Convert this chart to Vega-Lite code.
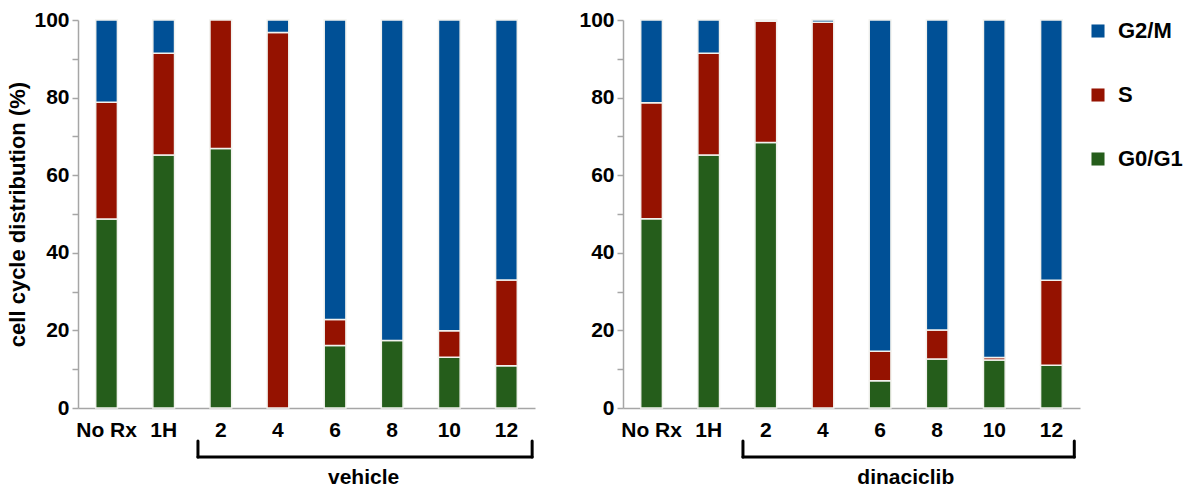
{
  "$schema": "https://vega.github.io/schema/vega-lite/v6.json",
  "padding": {"left": 6, "top": 9, "right": 2, "bottom": 5},
  "background": "white",
  "config": {
    "font": "Liberation Sans",
    "view": {"stroke": null},
    "axis": {
      "domainColor": "#a6a6a6",
      "tickColor": "#a6a6a6",
      "domainWidth": 1.5,
      "tickWidth": 1.5,
      "labelFont": "Liberation Sans",
      "labelFontWeight": "bold",
      "labelColor": "black",
      "titleFont": "Liberation Sans",
      "titleFontWeight": "bold",
      "titleColor": "black",
      "grid": false
    },
    "legend": {
      "labelFont": "Liberation Sans",
      "labelFontWeight": "bold",
      "labelColor": "black"
    }
  },
  "datasets": {
    "cells": [
      {"treatment": "vehicle", "time": "No Rx", "phase": "G0/G1", "stage": 1, "pct": 48.7},
      {"treatment": "vehicle", "time": "No Rx", "phase": "S", "stage": 2, "pct": 30.1},
      {"treatment": "vehicle", "time": "No Rx", "phase": "G2/M", "stage": 3, "pct": 21.2},
      {"treatment": "vehicle", "time": "1H", "phase": "G0/G1", "stage": 1, "pct": 65.2},
      {"treatment": "vehicle", "time": "1H", "phase": "S", "stage": 2, "pct": 26.2},
      {"treatment": "vehicle", "time": "1H", "phase": "G2/M", "stage": 3, "pct": 8.6},
      {"treatment": "vehicle", "time": "2", "phase": "G0/G1", "stage": 1, "pct": 66.9},
      {"treatment": "vehicle", "time": "2", "phase": "S", "stage": 2, "pct": 33.1},
      {"treatment": "vehicle", "time": "4", "phase": "S", "stage": 2, "pct": 96.8},
      {"treatment": "vehicle", "time": "4", "phase": "G2/M", "stage": 3, "pct": 3.2},
      {"treatment": "vehicle", "time": "6", "phase": "G0/G1", "stage": 1, "pct": 16.1},
      {"treatment": "vehicle", "time": "6", "phase": "S", "stage": 2, "pct": 6.7},
      {"treatment": "vehicle", "time": "6", "phase": "G2/M", "stage": 3, "pct": 77.2},
      {"treatment": "vehicle", "time": "8", "phase": "G0/G1", "stage": 1, "pct": 17.4},
      {"treatment": "vehicle", "time": "8", "phase": "G2/M", "stage": 3, "pct": 82.6},
      {"treatment": "vehicle", "time": "10", "phase": "G0/G1", "stage": 1, "pct": 13.1},
      {"treatment": "vehicle", "time": "10", "phase": "S", "stage": 2, "pct": 6.8},
      {"treatment": "vehicle", "time": "10", "phase": "G2/M", "stage": 3, "pct": 80.1},
      {"treatment": "vehicle", "time": "12", "phase": "G0/G1", "stage": 1, "pct": 10.9},
      {"treatment": "vehicle", "time": "12", "phase": "S", "stage": 2, "pct": 22.1},
      {"treatment": "vehicle", "time": "12", "phase": "G2/M", "stage": 3, "pct": 67.0},
      {"treatment": "dinaciclib", "time": "No Rx", "phase": "G0/G1", "stage": 1, "pct": 48.8},
      {"treatment": "dinaciclib", "time": "No Rx", "phase": "S", "stage": 2, "pct": 29.9},
      {"treatment": "dinaciclib", "time": "No Rx", "phase": "G2/M", "stage": 3, "pct": 21.3},
      {"treatment": "dinaciclib", "time": "1H", "phase": "G0/G1", "stage": 1, "pct": 65.2},
      {"treatment": "dinaciclib", "time": "1H", "phase": "S", "stage": 2, "pct": 26.2},
      {"treatment": "dinaciclib", "time": "1H", "phase": "G2/M", "stage": 3, "pct": 8.6},
      {"treatment": "dinaciclib", "time": "2", "phase": "G0/G1", "stage": 1, "pct": 68.4},
      {"treatment": "dinaciclib", "time": "2", "phase": "S", "stage": 2, "pct": 31.3},
      {"treatment": "dinaciclib", "time": "2", "phase": "G2/M", "stage": 3, "pct": 0.3},
      {"treatment": "dinaciclib", "time": "4", "phase": "S", "stage": 2, "pct": 99.4},
      {"treatment": "dinaciclib", "time": "4", "phase": "G2/M", "stage": 3, "pct": 0.6},
      {"treatment": "dinaciclib", "time": "6", "phase": "G0/G1", "stage": 1, "pct": 7.0},
      {"treatment": "dinaciclib", "time": "6", "phase": "S", "stage": 2, "pct": 7.6},
      {"treatment": "dinaciclib", "time": "6", "phase": "G2/M", "stage": 3, "pct": 85.4},
      {"treatment": "dinaciclib", "time": "8", "phase": "G0/G1", "stage": 1, "pct": 12.6},
      {"treatment": "dinaciclib", "time": "8", "phase": "S", "stage": 2, "pct": 7.5},
      {"treatment": "dinaciclib", "time": "8", "phase": "G2/M", "stage": 3, "pct": 79.9},
      {"treatment": "dinaciclib", "time": "10", "phase": "G0/G1", "stage": 1, "pct": 12.4},
      {"treatment": "dinaciclib", "time": "10", "phase": "S", "stage": 2, "pct": 0.6},
      {"treatment": "dinaciclib", "time": "10", "phase": "G2/M", "stage": 3, "pct": 87.0},
      {"treatment": "dinaciclib", "time": "12", "phase": "G0/G1", "stage": 1, "pct": 11.0},
      {"treatment": "dinaciclib", "time": "12", "phase": "S", "stage": 2, "pct": 21.9},
      {"treatment": "dinaciclib", "time": "12", "phase": "G2/M", "stage": 3, "pct": 67.1}
    ]
  },
  "spacing": 43,
  "resolve": {"scale": {"color": "shared"}, "legend": {"color": "shared"}},
  "hconcat": [
    {
      "width": 457,
      "height": 388,
      "resolve": {"scale": {"x": "independent", "y": "independent"}},
      "layer": [
        {
          "data": {"name": "cells"},
          "transform": [{"filter": "datum.treatment === 'vehicle'"}],
          "mark": {"type": "bar", "stroke": "#f2f2ee", "strokeWidth": 1.5},
          "encoding": {
            "x": {
              "field": "time", "type": "nominal",
              "sort": ["No Rx", "1H", "2", "4", "6", "8", "10", "12"],
              "scale": {"paddingInner": 0.62, "paddingOuter": 0.31},
              "axis": {"title": null, "ticks": false, "labelAngle": 0, "labelFontSize": 21, "labelPadding": 11}
            },
            "y": {
              "field": "pct", "type": "quantitative", "stack": "zero",
              "scale": {"domain": [0, 100], "nice": false},
              "axis": {
                "title": "cell cycle distribution (%)",
                "titleFontSize": 22, "titlePadding": 4,
                "values": [0, 10, 20, 30, 40, 50, 60, 70, 80, 90, 100],
                "labelExpr": "datum.value % 20 === 0 ? datum.label : ''",
                "labelFontSize": 21, "labelPadding": 3, "tickSize": 6
              }
            },
            "color": {
              "field": "phase", "type": "nominal",
              "scale": {"domain": ["G2/M", "S", "G0/G1"], "range": ["#005096", "#951200", "#255d1b"]},
              "legend": {
                "title": null, "symbolType": "square", "symbolSize": 170, "symbolStrokeWidth": 0,
                "labelFontSize": 22, "rowPadding": 42, "labelOffset": 9, "offset": 7
              }
            },
            "order": {"field": "stage", "type": "quantitative", "sort": "ascending"}
          }
        },
        {
          "data": {"values": [{"group": "vehicle"}]},
          "layer": [
            {
              "mark": {"type": "rule", "strokeWidth": 3, "color": "black", "strokeCap": "round"},
              "encoding": {
                "x": {"datum": 2.1, "type": "quantitative", "scale": {"domain": [0, 8], "nice": false}, "axis": null},
                "x2": {"datum": 7.95},
                "y": {"datum": -12.6, "type": "quantitative", "scale": {"domain": [0, 100], "nice": false}, "axis": null}
              }
            },
            {
              "mark": {"type": "rule", "strokeWidth": 3, "color": "black", "strokeCap": "round"},
              "encoding": {
                "x": {"datum": 2.1, "type": "quantitative"},
                "y": {"datum": -8.5, "type": "quantitative"},
                "y2": {"datum": -12.6}
              }
            },
            {
              "mark": {"type": "rule", "strokeWidth": 3, "color": "black", "strokeCap": "round"},
              "encoding": {
                "x": {"datum": 7.95, "type": "quantitative"},
                "y": {"datum": -8.5, "type": "quantitative"},
                "y2": {"datum": -12.6}
              }
            },
            {
              "mark": {"type": "text", "fontSize": 21, "fontWeight": "bold", "font": "Liberation Sans", "color": "black", "baseline": "middle", "align": "center"},
              "encoding": {
                "text": {"field": "group"},
                "x": {"datum": 5.0, "type": "quantitative"},
                "y": {"datum": -18, "type": "quantitative"}
              }
            }
          ]
        }
      ]
    },
    {
      "width": 457,
      "height": 388,
      "resolve": {"scale": {"x": "independent", "y": "independent"}},
      "layer": [
        {
          "data": {"name": "cells"},
          "transform": [{"filter": "datum.treatment === 'dinaciclib'"}],
          "mark": {"type": "bar", "stroke": "#f2f2ee", "strokeWidth": 1.5},
          "encoding": {
            "x": {
              "field": "time", "type": "nominal",
              "sort": ["No Rx", "1H", "2", "4", "6", "8", "10", "12"],
              "scale": {"paddingInner": 0.62, "paddingOuter": 0.31},
              "axis": {"title": null, "ticks": false, "labelAngle": 0, "labelFontSize": 21, "labelPadding": 11}
            },
            "y": {
              "field": "pct", "type": "quantitative", "stack": "zero",
              "scale": {"domain": [0, 100], "nice": false},
              "axis": {
                "title": null,
                "values": [0, 10, 20, 30, 40, 50, 60, 70, 80, 90, 100],
                "labelExpr": "datum.value % 20 === 0 ? datum.label : ''",
                "labelFontSize": 21, "labelPadding": 3, "tickSize": 6
              }
            },
            "color": {
              "field": "phase", "type": "nominal",
              "scale": {"domain": ["G2/M", "S", "G0/G1"], "range": ["#005096", "#951200", "#255d1b"]},
              "legend": {
                "title": null, "symbolType": "square", "symbolSize": 170, "symbolStrokeWidth": 0,
                "labelFontSize": 22, "rowPadding": 42, "labelOffset": 9, "offset": 7
              }
            },
            "order": {"field": "stage", "type": "quantitative", "sort": "ascending"}
          }
        },
        {
          "data": {"values": [{"group": "dinaciclib"}]},
          "layer": [
            {
              "mark": {"type": "rule", "strokeWidth": 3, "color": "black", "strokeCap": "round"},
              "encoding": {
                "x": {"datum": 2.1, "type": "quantitative", "scale": {"domain": [0, 8], "nice": false}, "axis": null},
                "x2": {"datum": 7.9},
                "y": {"datum": -12.6, "type": "quantitative", "scale": {"domain": [0, 100], "nice": false}, "axis": null}
              }
            },
            {
              "mark": {"type": "rule", "strokeWidth": 3, "color": "black", "strokeCap": "round"},
              "encoding": {
                "x": {"datum": 2.1, "type": "quantitative"},
                "y": {"datum": -8.5, "type": "quantitative"},
                "y2": {"datum": -12.6}
              }
            },
            {
              "mark": {"type": "rule", "strokeWidth": 3, "color": "black", "strokeCap": "round"},
              "encoding": {
                "x": {"datum": 7.9, "type": "quantitative"},
                "y": {"datum": -8.5, "type": "quantitative"},
                "y2": {"datum": -12.6}
              }
            },
            {
              "mark": {"type": "text", "fontSize": 21, "fontWeight": "bold", "font": "Liberation Sans", "color": "black", "baseline": "middle", "align": "center"},
              "encoding": {
                "text": {"field": "group"},
                "x": {"datum": 4.95, "type": "quantitative"},
                "y": {"datum": -18, "type": "quantitative"}
              }
            }
          ]
        }
      ]
    }
  ]
}
